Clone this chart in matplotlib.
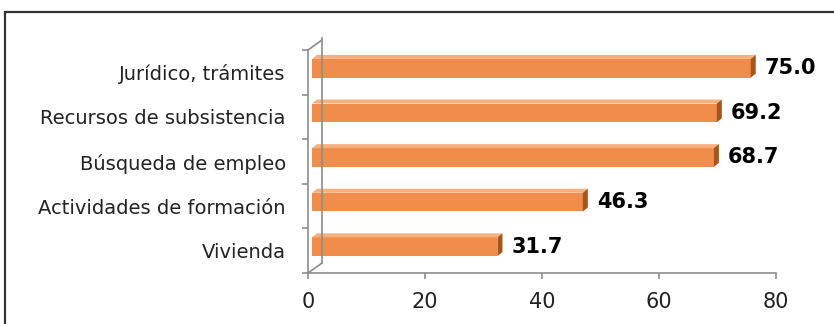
import matplotlib
matplotlib.use("Agg")
import matplotlib.pyplot as plt
import matplotlib.transforms as mtransforms
from matplotlib.patches import Polygon, Rectangle
from matplotlib.lines import Line2D

# Data
categories = ["Jurídico, trámites", "Recursos de subsistencia", "Búsqueda de empleo",
              "Actividades de formación", "Vivienda"]
values = [75.0, 69.2, 68.7, 46.3, 31.7]
xticks = [0, 20, 40, 60, 80]

W, H, DPI = 834, 324, 100
fig = plt.figure(figsize=(W / DPI, H / DPI), dpi=DPI)

# axes box = front plane of the 3D plot (pixel measurements from the reference)
x0, x1, ytop, ybot = 308, 776, 50, 273
ax = fig.add_axes([x0 / W, (H - ybot) / H, (x1 - x0) / W, (ybot - ytop) / H])
ax.set_xlim(0, 80)
ax.set_ylim(len(categories) - 0.5, -0.5)

grey = "#8c8c8c"
for s in ["top", "right"]:
    ax.spines[s].set_visible(False)
for s in ["left", "bottom"]:
    ax.spines[s].set_color(grey)
    ax.spines[s].set_linewidth(1.2)

ax.set_xticks(xticks)
ax.set_xticklabels([str(t) for t in xticks], fontsize=15, color="#222222")
ax.tick_params(axis="x", length=4, width=1.2, color=grey, pad=10)
# y ticks at slot boundaries, labels at slot centres
ax.set_yticks([i + 0.5 for i in range(-1, len(categories))])
ax.set_yticklabels([])
ax.tick_params(axis="y", length=4, width=1.2, color=grey)
ax.set_yticks(range(len(categories)), minor=True)
ax.set_yticklabels(categories, minor=True, fontsize=14, color="#222222")
ax.tick_params(axis="y", which="minor", length=0, pad=16)

# 3D wall edges (depth offset in pixels)
wdx, wdy = 14, 10
px_x = (x1 - x0) / 80.0
px_y = (ybot - ytop) / len(categories)
ddx, ddy = wdx / px_x, wdy / px_y
kw = dict(color=grey, lw=1.2, clip_on=False, transform=ax.transData)
ax.add_line(Line2D([0, ddx], [4.5, 4.5 - ddy], **kw))
ax.add_line(Line2D([ddx, ddx], [4.5 - ddy, -0.5 - ddy - 0.05], **kw))
ax.add_line(Line2D([0, ddx], [-0.5, -0.5 - ddy], **kw))

# bars: front face shifted by a small offset, with top and side faces
off = mtransforms.ScaledTranslation(4 / DPI, 4 / DPI, fig.dpi_scale_trans)
tr = ax.transData + off
h = 0.42
bdx, bdy = 5 / px_x, 4 / px_y
front = "#f18d4a"
top_c = "#f6b07e"
side_c = "#a5561f"
for i, v in enumerate(values):
    yt = i - h / 2
    yb = i + h / 2
    ax.add_patch(Rectangle((0, yt), v, h, facecolor=front, edgecolor="none",
                           transform=tr, clip_on=False))
    ax.add_patch(Polygon([(0, yt), (v, yt), (v + bdx, yt - bdy), (bdx, yt - bdy)],
                         closed=True, facecolor=top_c, edgecolor="none",
                         transform=tr, clip_on=False))
    ax.add_patch(Polygon([(v, yt), (v + bdx, yt - bdy), (v + bdx, yb - bdy), (v, yb)],
                         closed=True, facecolor=side_c, edgecolor="none",
                         transform=tr, clip_on=False))
    ax.annotate(f"{v:.1f}", xy=(v, i), xytext=(13, 3), textcoords="offset points",
                fontsize=15, fontweight="bold", va="center", ha="left",
                annotation_clip=False)

# outer frame (cut off at right/bottom in the reference)
fig.add_artist(Rectangle((5 / W, -0.2), 1.2, 1.2 - 12 / H, transform=fig.transFigure,
                         facecolor="none", edgecolor="#333333", lw=1.6))

fig.savefig("out.png", dpi=DPI)
